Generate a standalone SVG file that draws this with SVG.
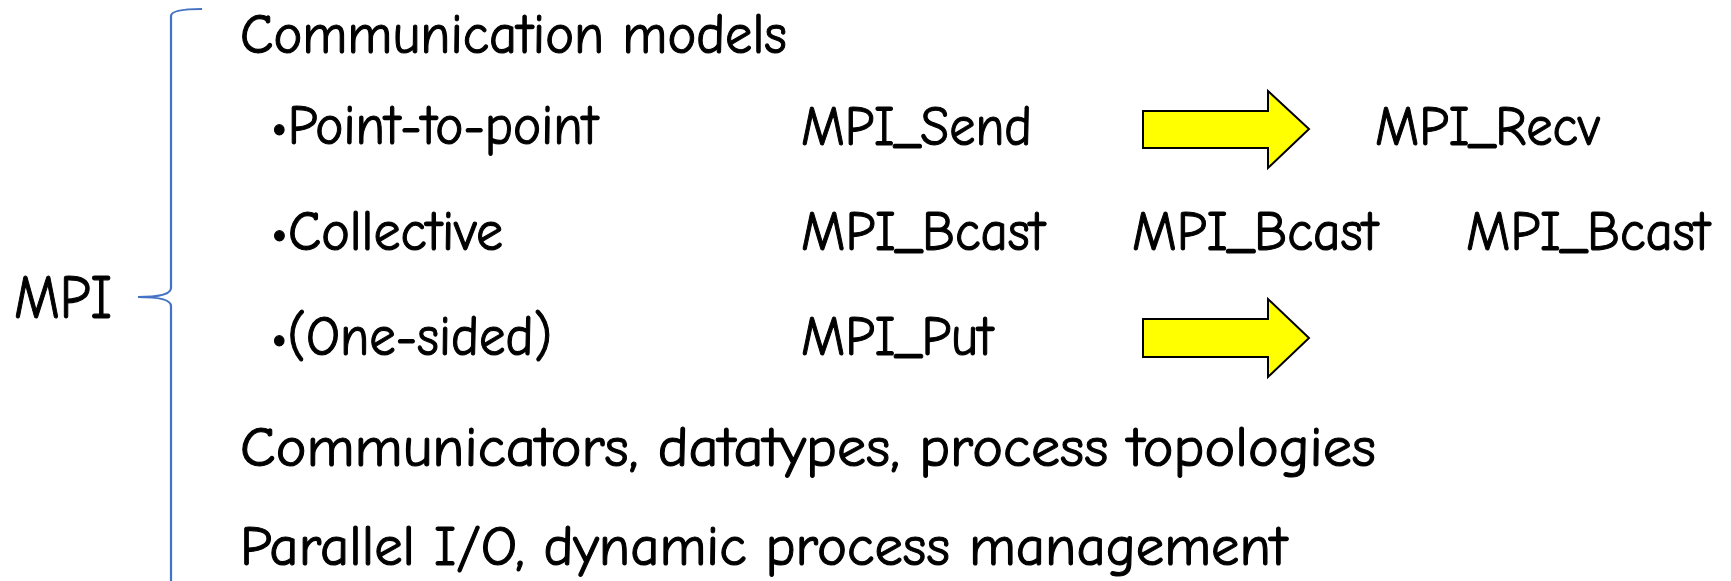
<svg xmlns="http://www.w3.org/2000/svg" width="1731" height="581" viewBox="0 0 1731 581">
<defs>
<style>
.t{font-family:"Comic Neue","Liberation Sans","DejaVu Sans",sans-serif;font-size:57px;fill:#000;stroke:#000;stroke-width:1.1;stroke-linejoin:round}
.big{font-size:63px}
.arr{fill:#FFFF00;stroke:#000;stroke-width:2;stroke-linejoin:miter}
.brace{fill:none;stroke:#4472C4;stroke-width:2.2}
</style>
</defs>
<rect width="1731" height="581" fill="#fff"/>
<g id="brace">
<path class="brace" d="M202,9 Q171,9 171,16 L171,288 Q171,297 138,297 Q171,297 171,306 L171,600"/>
</g>
<g id="mpi"><text class="t big" x="14" y="318" textLength="98" lengthAdjust="spacingAndGlyphs">MPI</text></g>
<g id="comm-models"><text class="t" x="240" y="53" textLength="547" lengthAdjust="spacingAndGlyphs">Communication models</text></g>
<g id="p2p"><text class="t" x="271" y="144" textLength="327" lengthAdjust="spacingAndGlyphs">•Point-to-point</text></g>
<g id="send"><text class="t" x="801" y="145" textLength="231" lengthAdjust="spacingAndGlyphs">MPI_Send</text></g>
<g id="recv"><text class="t" x="1375" y="145" textLength="225" lengthAdjust="spacingAndGlyphs">MPI_Recv</text></g>
<g id="collective"><text class="t" x="271" y="250" textLength="232" lengthAdjust="spacingAndGlyphs">•Collective</text></g>
<g id="bcast1"><text class="t" x="801" y="250" textLength="244" lengthAdjust="spacingAndGlyphs">MPI_Bcast</text></g>
<g id="bcast2"><text class="t" x="1132" y="250" textLength="246" lengthAdjust="spacingAndGlyphs">MPI_Bcast</text></g>
<g id="bcast3"><text class="t" x="1466" y="250" textLength="244" lengthAdjust="spacingAndGlyphs">MPI_Bcast</text></g>
<g id="onesided"><text class="t" x="271" y="355" textLength="281" lengthAdjust="spacingAndGlyphs">•(One-sided)</text></g>
<g id="put"><text class="t" x="801" y="355" textLength="192" lengthAdjust="spacingAndGlyphs">MPI_Put</text></g>
<g id="communicators"><text class="t" x="240" y="466" textLength="1136" lengthAdjust="spacingAndGlyphs">Communicators, datatypes, process topologies</text></g>
<g id="parallel-io"><text class="t" x="240" y="565" textLength="1047" lengthAdjust="spacingAndGlyphs">Parallel I/O, dynamic process management</text></g>
<g id="connectors">
<polygon class="arr" points="1143,111 1268,111 1268,91 1309,129 1268,168 1268,148 1143,148"/>
<polygon class="arr" points="1143,319 1268,319 1268,299 1309,338 1268,377 1268,357 1143,357"/>
</g>
</svg>
